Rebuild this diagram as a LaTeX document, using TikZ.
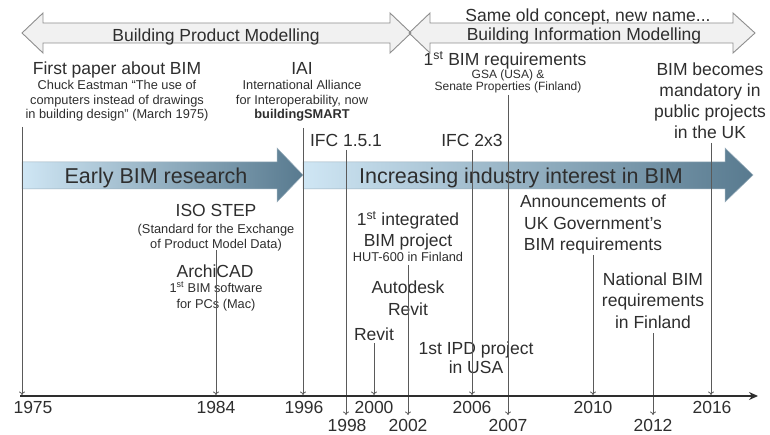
\documentclass[tikz,border=0pt]{standalone}
\usepackage{fontspec}
\setmainfont{Liberation Sans}
\usetikzlibrary{arrows.meta}
\definecolor{ink}{HTML}{2E2E2E}
\definecolor{linec}{HTML}{5A5A5A}
\definecolor{erafill}{HTML}{F1F1F1}
\definecolor{eraedge}{HTML}{8E8E8E}
\definecolor{phaselight}{HTML}{CFE6F4}
\definecolor{phasedark}{HTML}{587A8F}

\begin{document}
\begin{tikzpicture}[x=1pt, y=-1pt,
  event/.style={font=\fontsize{17.5}{21.5}\selectfont, text=ink, align=center, inner sep=0pt, anchor=base},
  note/.style={font=\fontsize{12.8}{14.5}\selectfont, text=ink, align=center, inner sep=0pt, anchor=base},
  yearlbl/.style={font=\fontsize{17.5}{20}\selectfont, text=ink, inner sep=0pt, anchor=base},
  phaselbl/.style={font=\fontsize{21.5}{24}\selectfont, text=ink, inner sep=0pt, anchor=base},
  era/.style={draw=eraedge, line width=0.9pt},
  phase/.style={draw=phasedark!60, line width=0.5pt, left color=phaselight, right color=phasedark},
  tickline/.style={draw=linec, line width=0.8pt, -{To[length=3.5pt,width=6pt]}}]

\useasboundingbox (0,0) rectangle (770,435);

% ERAS

\fill[erafill] (22,33) -- (43,13) -- (43,23) -- (390,23) -- (390,13) -- (411,33) -- (390,53) -- (390,43) -- (43,43) -- (43,53) -- cycle;
\fill[erafill] (409,33) -- (430,13) -- (430,23) -- (733,23) -- (733,13) -- (755,33) -- (733,53) -- (733,43) -- (430,43) -- (430,53) -- cycle;
\draw[era] (22,33) -- (43,13) -- (43,23) -- (390,23) -- (390,13) -- (411,33) -- (390,53) -- (390,43) -- (43,43) -- (43,53) -- cycle;
\draw[era] (409,33) -- (430,13) -- (430,23) -- (733,23) -- (733,13) -- (755,33) -- (733,53) -- (733,43) -- (430,43) -- (430,53) -- cycle;

\node[event] (bpm) at (216,42) {Building Product Modelling};
\node[event] (samename) at (588,22) {Same old concept, new name...};
\node[event] (bim) at (584,41) {Building Information Modelling};

% PHASES

\draw[phase] (22,162) -- (277,162) -- (277,148) -- (303,175) -- (277,202) -- (277,189) -- (22,189) -- cycle;
\draw[phase] (303,162) -- (725,162) -- (725,148) -- (753,175) -- (725,202) -- (725,189) -- (303,189) -- cycle;

\node[phaselbl] (early) at (156,183.5) {Early BIM research};
\node[phaselbl] (increasing) at (521,183.5) {Increasing industry interest in BIM};

% EVENTS (base = last line)

\node[event] (firstpaper) at (117,75) {First paper about BIM};
\node[note] (eastman) at (117,119) {Chuck Eastman “The use of\\computers instead of drawings\\in building design” (March 1975)};

\node[event] (iai) at (302,75) {IAI};
\node[note] (alliance) at (302,119) {International Alliance\\for Interoperability, now\\\textbf{buildingSMART}};

\node[event] (bimreq) at (505,66) {1\textsuperscript{st} BIM requirements};
\node[note, font=\fontsize{12}{12}\selectfont] (gsa) at (508,91) {GSA (USA) \&\\Senate Properties (Finland)};

\node[event, font=\fontsize{17.5}{21}\selectfont] (mandatory) at (710,139) {BIM becomes\\mandatory in\\public projects\\in the UK};

\node[event] (ifc151) at (346,147) {IFC 1.5.1};
\node[event] (ifc2x3) at (472,147) {IFC 2x3};

\node[event] (isostep) at (216,217) {ISO STEP};
\node[note, font=\fontsize{12.8}{15}\selectfont] (standard) at (216,249) {(Standard for the Exchange\\of Product Model Data)};

\node[event] (archicad) at (215,277) {ArchiCAD};
\node[note, font=\fontsize{12.8}{16}\selectfont] (bimsoftware) at (216,308) {1\textsuperscript{st} BIM software\\for PCs (Mac)};

\node[event] (integrated) at (408,247) {1\textsuperscript{st} integrated\\BIM project};
\node[note] (hut) at (408,262) {HUT-600 in Finland};

\node[event] (autodesk) at (408,315) {Autodesk\\Revit};
\node[event] (revit) at (374,340) {Revit};
\node[event, font=\fontsize{17.5}{19}\selectfont] (ipd) at (476,373) {1st IPD project\\in USA};

\node[event] (ukgov) at (593,251) {Announcements of\\UK Government's\\BIM requirements};
\node[event] (natbim) at (653,328) {National BIM\\requirements\\in Finland};

% CONNECTORS

\coordinate (s1975) at (22,127);  \coordinate (e1975) at (22,395);
\coordinate (s1984) at (216,250); \coordinate (e1984) at (216,395);
\coordinate (s1996) at (303,128); \coordinate (e1996) at (303,395);
\coordinate (s1998) at (346,150); \coordinate (e1998) at (346,415);
\coordinate (s2000) at (374,343); \coordinate (e2000) at (374,395);
\coordinate (s2002) at (408,265); \coordinate (e2002) at (408,415);
\coordinate (s2006) at (472,150); \coordinate (e2006) at (472,395);
\coordinate (s2007) at (508,95);  \coordinate (e2007) at (508,415);
\coordinate (s2010) at (593,255); \coordinate (e2010) at (593,395);
\coordinate (s2012) at (653,333); \coordinate (e2012) at (653,415);
\coordinate (s2016) at (711,143); \coordinate (e2016) at (711,395);

\draw[tickline] (s1975) -- (e1975);
\draw[tickline] (s1984) -- (e1984);
\draw[tickline] (s1996) -- (e1996);
\draw[tickline] (s1998) -- (e1998);
\draw[tickline] (s2000) -- (e2000);
\draw[tickline] (s2002) -- (e2002);
\draw[tickline] (s2006) -- (e2006);
\draw[tickline] (s2007) -- (e2007);
\draw[tickline] (s2010) -- (e2010);
\draw[tickline] (s2012) -- (e2012);
\draw[tickline] (s2016) -- (e2016);

% TIMELINE

\coordinate (axisstart) at (20,396);
\coordinate (axisend) at (758,396);
\draw[ink, line width=1.8pt, -{Stealth[length=9pt,width=8pt]}] (axisstart) -- (axisend);

\node[yearlbl] (y1975) at (33,413) {1975};
\node[yearlbl] (y1984) at (216,413) {1984};
\node[yearlbl] (y1996) at (304,413) {1996};
\node[yearlbl] (y1998) at (347,431) {1998};
\node[yearlbl] (y2000) at (374,413) {2000};
\node[yearlbl] (y2002) at (408,431) {2002};
\node[yearlbl] (y2006) at (472,413) {2006};
\node[yearlbl] (y2007) at (508,431) {2007};
\node[yearlbl] (y2010) at (593,413) {2010};
\node[yearlbl] (y2012) at (653,431) {2012};
\node[yearlbl] (y2016) at (712,413) {2016};

\end{tikzpicture}
\end{document}
